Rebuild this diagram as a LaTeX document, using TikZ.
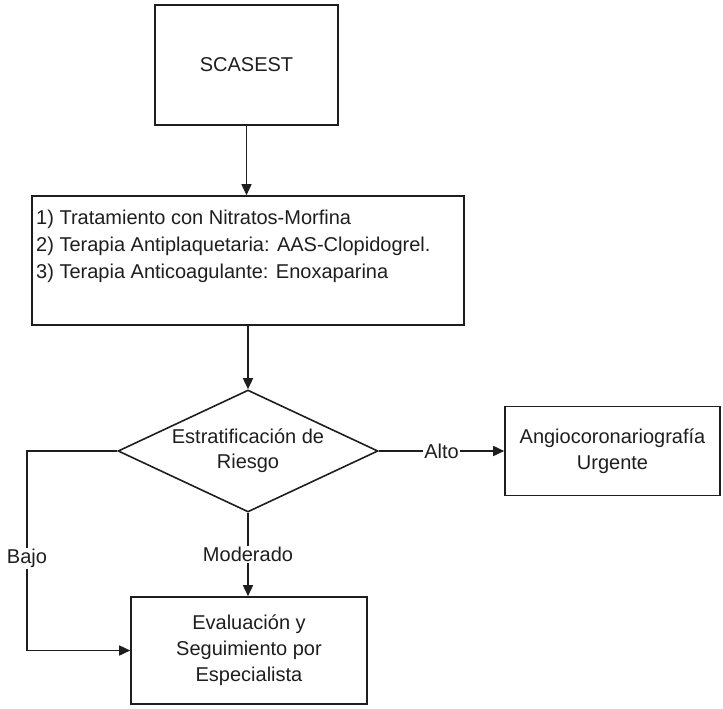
\documentclass[tikz,border=0pt]{standalone}
\usepackage{fontspec}
\setmainfont{Liberation Sans}
\usepackage{tikz}
\usetikzlibrary{arrows.meta,shapes.geometric}
\tikzset{>={Triangle[length=11pt,width=10pt]}}
\definecolor{tinta}{HTML}{1E1E1E}
\newcommand{\letra}{\fontsize{20}{26}\selectfont}
\tikzset{
  caja/.style={draw=tinta,line width=1.6pt,inner sep=0pt,align=center,text=tinta,font=\letra},
  rombo/.style={diamond,draw=tinta,line width=1.6pt,inner sep=0pt,aspect=2.13,
    minimum width=260pt,minimum height=122pt,align=center,text=tinta,font=\letra},
  flecha/.style={->,draw=tinta,line width=1.6pt},
  etiq/.style={fill=white,inner sep=1pt,text=tinta,font=\letra}
}

\begin{document}
\begin{tikzpicture}[x=1pt,y=-1pt]
\useasboundingbox (0,0) rectangle (723,709);
\node[caja,minimum width=183pt,minimum height=120pt] (scasest) at (246.5,65) {SCASEST};
\node[caja,minimum width=432pt,minimum height=129pt] (trat) at (248,260.5) {};
\node[anchor=north west,inner sep=0pt,align=left,text=tinta,font=\fontsize{20}{27}\selectfont] (lista) at (36,210)
  {1) Tratamiento con Nitratos-Morfina\\
   2) Terapia Antiplaquetaria: AAS-Clopidogrel.\\
   3) Terapia Anticoagulante: Enoxaparina};
\node[rombo,font=\fontsize{20}{25}\selectfont] (riesgo) at (248,451) {Estratificación de\\Riesgo};
\node[caja,minimum width=215pt,minimum height=89pt] (angio) at (612.5,451) {Angiocoronariografía\\Urgente};
\node[caja,minimum width=236pt,minimum height=107pt] (eval) at (249,650.5) {Evaluación y\\Seguimiento por\\Especialista};
\coordinate (bajoesq) at (27,650.5);

\draw[flecha] (scasest.south) -- (scasest.south |- trat.north);
\draw[flecha] (trat.south) -- (riesgo.north);
\draw[flecha] (riesgo.east) -- node[etiq]{Alto} (angio.west);
\draw[flecha] (riesgo.south) -- node[etiq]{Moderado} (riesgo.south |- eval.north);
\draw[flecha] (riesgo.west) -| node[etiq,pos=0.77]{Bajo} (bajoesq) -- (eval.west);
\end{tikzpicture}
\end{document}
